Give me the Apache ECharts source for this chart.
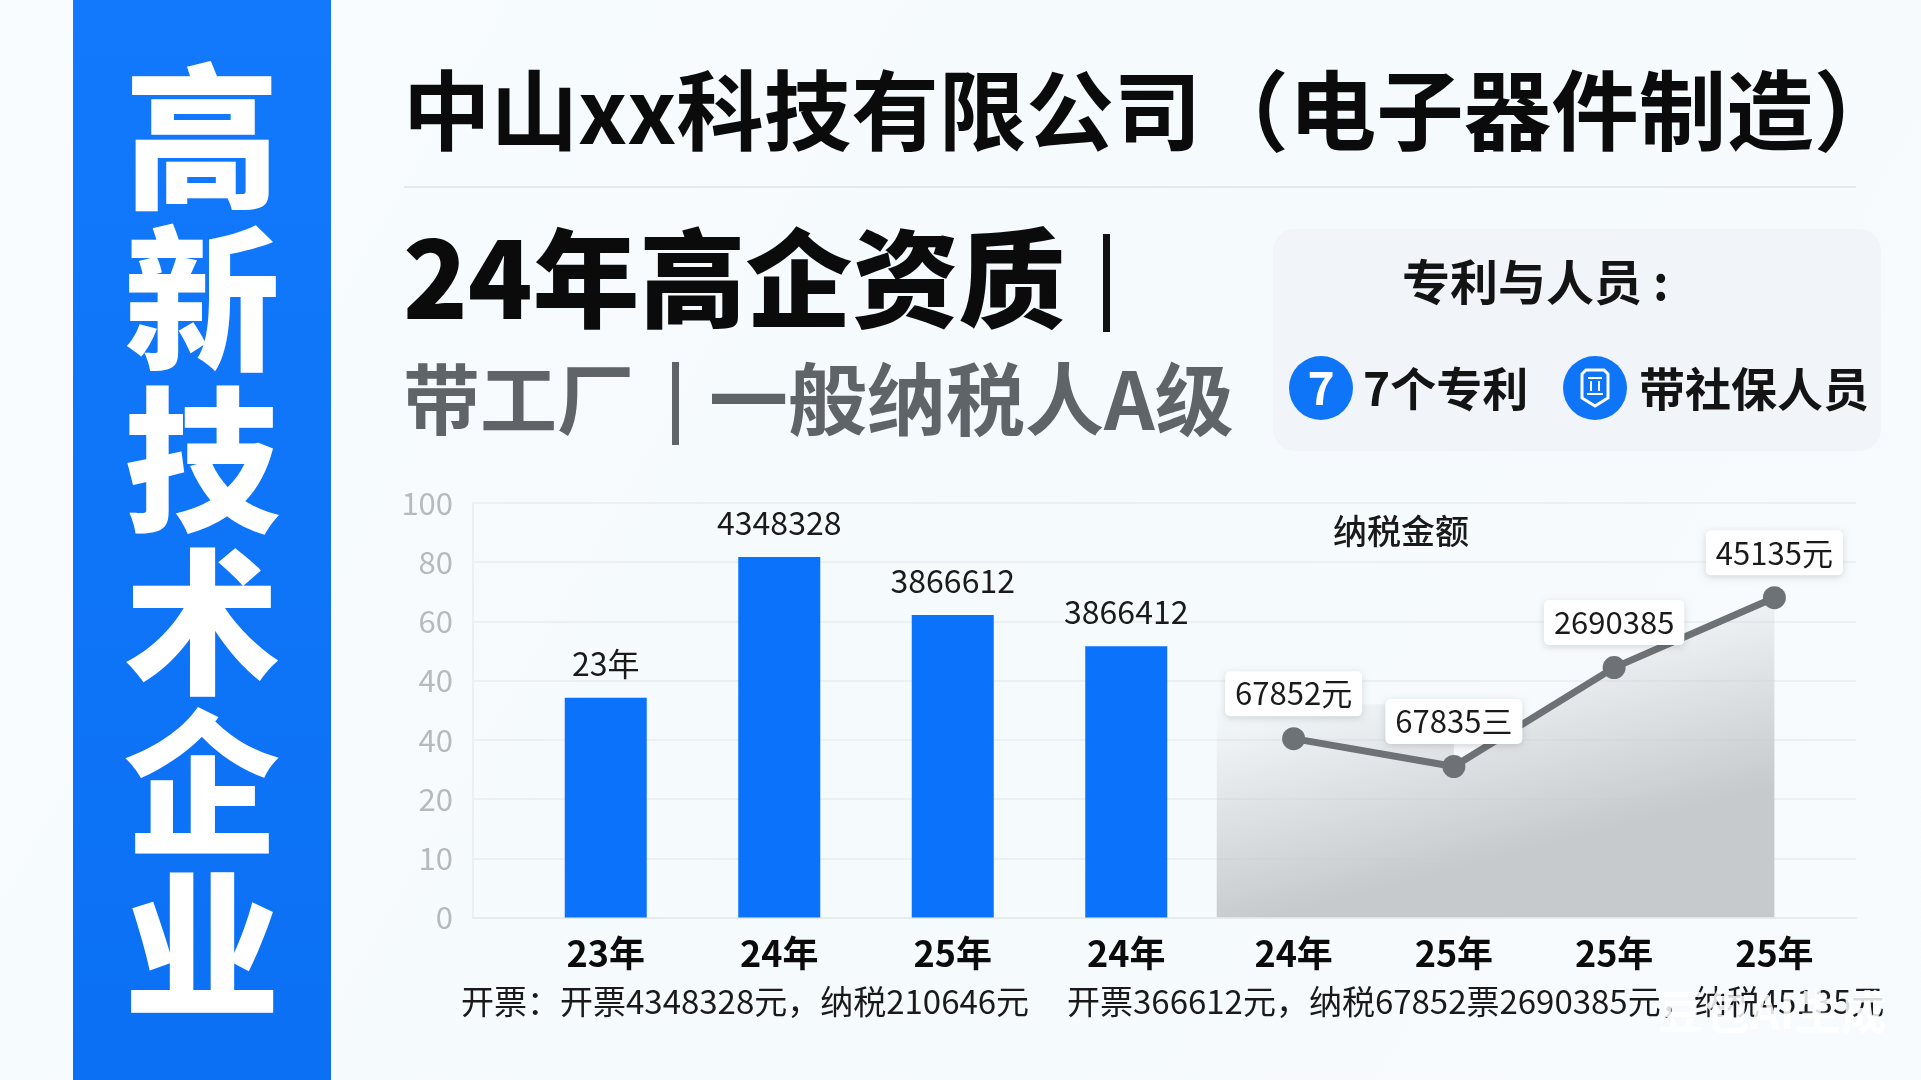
<!DOCTYPE html>
<html>
<head>
  <meta charset="utf-8">
  <title>高新技术企业</title>
  <script src="https://cdnjs.cloudflare.com/ajax/libs/echarts/6.0.0/echarts.min.js"></script>
  <style>
    html, body { margin: 0; padding: 0; background: #f6fafd; }
  </style>
</head>
<body>
<div id="main" style="width:1921px;height:1080px;"></div>
<script type="text/javascript">
  // tick labels sit evenly on the axis (40 appears twice in the picture), so values are in tick positions
  var yTickLabels = ['0', '10', '20', '40', '40', '60', '80', '100'];

  var barYears = ['23年', '24年', '25年', '24年'];
  var barValues = [3.71, 6.09, 5.11, 4.58];
  var barLabels = ['23年', '4348328', '3866612', '3866412'];

  var lineYears = ['24年', '25年', '25年', '25年'];
  var lineValues = [3.02, 2.55, 4.22, 5.40];
  var lineLabels = ['67852元', '67835三', '2690385', '45135元'];

  // grey block behind the line, x in category widths
  var areaX = [0.02, 1.5, 1.5, 2.5, 3.5];
  var areaY = [3.6, 3.6, 2.55, 4.22, 5.40];

  var sideTitle = ['高', '新', '技', '术', '企', '业'];

  var FONT = '"Noto Sans CJK SC", "Noto Sans", sans-serif';

  function txt(x, y, text, size, weight, fill, align) {
    return {
      type: 'text',
      z: 10,
      style: {
        x: x, y: y, text: text,
        font: weight + ' ' + size + 'px ' + FONT,
        fill: fill, align: align || 'left', verticalAlign: 'middle'
      }
    };
  }

  var graphics = [
    // blue side band
    { type: 'rect', z: 1, shape: { x: 73, y: 0, width: 258, height: 1080 },
      style: { fill: new echarts.graphic.LinearGradient(0, 0, 0, 1, [
        { offset: 0, color: '#1279fc' }, { offset: 1, color: '#0b70f4' }
      ]) } },
    // title divider
    { type: 'rect', z: 1, shape: { x: 404, y: 186, width: 1452, height: 2 }, style: { fill: '#e4e9ed' } },
    // patent panel
    { type: 'rect', z: 1, shape: { x: 1273, y: 229, width: 608, height: 222, r: 22 }, style: { fill: '#f1f5f9' } },
    { type: 'rect', z: 10, shape: { x: 1103, y: 234, width: 7, height: 98 }, style: { fill: '#111' } },
    { type: 'rect', z: 10, shape: { x: 672, y: 362, width: 7, height: 83 }, style: { fill: '#5f6468' } },
    { type: 'circle', z: 10, shape: { cx: 1321, cy: 388, r: 32 }, style: { fill: '#0f75f8' } },
    { type: 'circle', z: 10, shape: { cx: 1595, cy: 388, r: 32 }, style: { fill: '#0f75f8' } },
    // shield icon
    { type: 'polygon', z: 11, shape: { points: [[1582, 374], [1586, 370], [1604, 370], [1608, 374], [1608, 398], [1595, 406], [1582, 398]] },
      style: { fill: 'none', stroke: '#fff', lineWidth: 3 } },
    { type: 'rect', z: 11, shape: { x: 1588, y: 377, width: 14, height: 2 }, style: { fill: '#fff' } },
    { type: 'rect', z: 11, shape: { x: 1590, y: 381, width: 2, height: 10 }, style: { fill: '#fff' } },
    { type: 'rect', z: 11, shape: { x: 1598, y: 381, width: 2, height: 10 }, style: { fill: '#fff' } },
    { type: 'rect', z: 11, shape: { x: 1587, y: 393, width: 16, height: 2 }, style: { fill: '#fff' } },

    txt(403, 111, '中山xx科技有限公司（电子器件制造）', 87.5, 700, '#0b0b0b'),
    txt(403, 279, '24年高企资质', 106.5, 900, '#0b0b0b'),
    txt(403, 400, '带工厂', 77, 700, '#5f6468'),
    txt(709, 400, '一般纳税人A级', 79, 700, '#5f6468'),
    txt(1402, 282, '专利与人员 :', 48, 600, '#141414'),
    txt(1321, 388, '7', 46, 700, '#fff', 'center'),
    txt(1363, 389, '7个专利', 46, 600, '#141414'),
    txt(1639, 389, '带社保人员', 46, 600, '#141414'),
    txt(461, 1001, '开票：开票4348328元，纳税210646元', 33, 400, '#1a1a1a'),
    txt(1067, 1001, '开票366612元，纳税67852票2690385元，纳税45135元', 33, 400, '#1a1a1a'),
    txt(1658, 1012, '豆包AI生成', 46, 700, 'rgba(255,255,255,0.85)')
  ];

  sideTitle.forEach(function (ch, i) {
    var t = txt(202, 137 + i * 161.5, ch, 156, 800, '#fff', 'center');
    t.style.shadowColor = 'rgba(0,50,140,0.35)';
    t.style.shadowBlur = 6;
    t.style.shadowOffsetY = 3;
    graphics.push(t);
  });

  var chartDom = document.getElementById('main');
  var myChart = echarts.init(chartDom);

  var hiddenY = function (idx) {
    return { type: 'value', gridIndex: idx, min: 0, max: 7, interval: 1, show: false };
  };
  var xLabel = { fontSize: 36, fontWeight: 700, color: '#0b0b0b', fontFamily: FONT, margin: 18 };

  var option = {
    animation: false,
    backgroundColor: new echarts.graphic.LinearGradient(0, 0, 1, 1, [
      { offset: 0, color: '#f8fcfe' },
      { offset: 0.5, color: '#f5fafd' },
      { offset: 1, color: '#f7fbfd' }
    ]),
    title: {
      text: '纳税金额', left: 1396, top: 509, textAlign: 'center',
      textStyle: { fontSize: 34, fontWeight: 500, color: '#1a1a1a', fontFamily: FONT }
    },
    grid: [
      { left: 473, top: 503, width: 1383, height: 414.5 },
      { left: 519, top: 503, width: 694, height: 414.5 },
      { left: 1213.5, top: 503, width: 641, height: 414.5 }
    ],
    xAxis: [
      { type: 'category', gridIndex: 0, data: [''], axisTick: { show: false }, axisLabel: { show: false },
        axisLine: { lineStyle: { color: '#e6ebef', width: 2 } } },
      { type: 'category', gridIndex: 1, data: barYears, axisTick: { show: false }, axisLine: { show: false }, axisLabel: xLabel },
      { type: 'category', gridIndex: 2, data: lineYears, axisTick: { show: false }, axisLine: { show: false }, axisLabel: xLabel },
      { type: 'value', gridIndex: 2, min: 0, max: 4, show: false }
    ],
    yAxis: [
      { type: 'value', gridIndex: 0, min: 0, max: 7, interval: 1,
        axisLine: { show: true, lineStyle: { color: '#e8edf1', width: 1.5 } },
        axisTick: { show: false },
        splitLine: { lineStyle: { color: '#e8edf1', width: 1.5 } },
        axisLabel: {
          fontSize: 31, color: '#b6babd', fontFamily: FONT, margin: 20,
          formatter: function (v) { return yTickLabels[v]; }
        } },
      hiddenY(1),
      hiddenY(2),
      hiddenY(2)
    ],
    series: [
      {
        type: 'bar', xAxisIndex: 1, yAxisIndex: 1, barWidth: 82, z: 3,
        data: barValues,
        itemStyle: { color: '#0a72fb' },
        label: {
          show: true, position: 'top', distance: 18, fontSize: 32, color: '#1a1a1a', fontFamily: FONT,
          formatter: function (p) { return barLabels[p.dataIndex]; }
        }
      },
      {
        type: 'line', xAxisIndex: 3, yAxisIndex: 3, z: 2, showSymbol: false, silent: true,
        lineStyle: { width: 0 },
        data: areaX.map(function (x, i) { return [x, areaY[i]]; }),
        areaStyle: {
          opacity: 1,
          color: new echarts.graphic.LinearGradient(0, 0.33, 0.1, 1, [
            { offset: 0, color: 'rgba(198,202,205,0)' },
            { offset: 1, color: 'rgba(198,202,205,1)' }
          ])
        }
      },
      {
        type: 'line', xAxisIndex: 2, yAxisIndex: 2, z: 4,
        data: lineValues,
        symbol: 'circle', symbolSize: 23,
        lineStyle: { color: '#6d7276', width: 7 },
        itemStyle: { color: '#6d7276' },
        label: {
          show: true, position: 'top', distance: 11, fontSize: 31, color: '#1a1a1a', fontFamily: FONT,
          backgroundColor: '#fff', borderRadius: 5, padding: [7, 10],
          shadowColor: 'rgba(0,0,0,0.14)', shadowBlur: 7, shadowOffsetY: 2,
          formatter: function (p) { return lineLabels[p.dataIndex]; }
        }
      }
    ],
    graphic: graphics
  };

  myChart.setOption(option);
</script>
</body>
</html>
